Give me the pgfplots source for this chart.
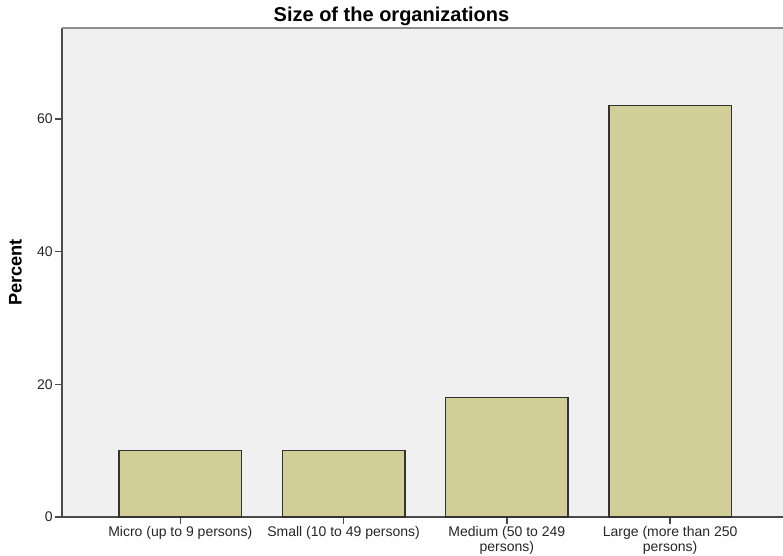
\documentclass[border=0pt]{standalone}
\usepackage{pgfplots}
\pgfplotsset{compat=1.18}
\usepackage{fontspec}
\setmainfont{Liberation Sans}
\definecolor{barfill}{HTML}{D2CE98}
\definecolor{bgfill}{HTML}{F0F0F0}
\definecolor{axisdark}{HTML}{4A4A4A}
\definecolor{topgrey}{HTML}{8C8C8C}
\begin{document}
\begin{tikzpicture}
\path[use as bounding box] (0,0) rectangle (587.25pt,417pt);
\begin{axis}[
  at={(46.5pt,29.25pt)}, anchor=south west,
  scale only axis, width=540.75pt, height=366.75pt,
  xmin=-0.724, xmax=3.691, ymin=0, ymax=73.72,
  axis lines*=left,
  axis line style={axisdark, line width=1.4pt},
  axis background/.style={fill=bgfill},
  xtick={0,1,2,3},
  xticklabels={Micro (up to 9 persons), Small (10 to 49 persons), {Medium (50 to 249\\persons)}, {Large (more than 250\\persons)}},
  ytick={0,20,40,60},
  tick align=outside,
  major tick length=5.25pt,
  tick style={axisdark, line width=1.1pt},
  /pgf/number format/assume math mode=true,
  ticklabel style={font=\fontsize{10.5}{10}\selectfont, text=black!85},
  xticklabel style={align=center, inner sep=1.5pt, font=\fontsize{10.5}{11.2}\selectfont},
  yticklabel style={inner sep=1.5pt},
  title={Size of the organizations},
  title style={at={(axis description cs:0.457,1)}, anchor=base, yshift=-1.2pt, font=\bfseries\fontsize{15}{17}\selectfont},
  ylabel={Percent},
  ylabel style={at={(axis description cs:-0.0645,0.5)}, anchor=center, font=\bfseries\fontsize{13.7}{16}\selectfont},
  clip=false,
]
\addplot[ybar, bar width=0.75, fill=barfill, draw=black!80, line width=1.1pt] coordinates {(0,10) (1,10) (2,18) (3,62)};
\draw[topgrey, line width=1.4pt] (rel axis cs:0,1) -- (rel axis cs:1,1);
\end{axis}
\end{tikzpicture}
\end{document}
